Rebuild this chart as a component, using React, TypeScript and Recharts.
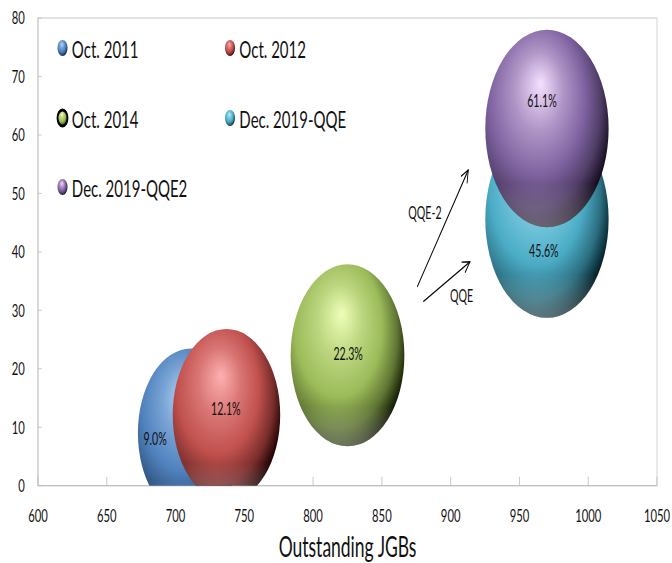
import React from 'react';
import {
  ScatterChart,
  Scatter,
  XAxis,
  YAxis,
  ZAxis,
  ReferenceLine,
  ReferenceArea,
  Label,
} from 'recharts';

// Holdings share vs. outstanding JGBs, one bubble per period
const periods = ['Oct. 2011', 'Oct. 2012', 'Oct. 2014', 'Dec. 2019-QQE', 'Dec. 2019-QQE2'];
const outstandingJGBs = [711, 737, 825, 970, 970];
const holdingShare = [9.0, 12.1, 22.3, 45.6, 61.1];

const xTicks = [600, 650, 700, 750, 800, 850, 900, 950, 1000, 1050];
const yTicks = [0, 10, 20, 30, 40, 50, 60, 70, 80];

// annotation arrows, in axis units
const arrowLabels = ['QQE-2', 'QQE'];
const arrowStart = [
  [875.7, 34.0],
  [880.1, 31.5],
];
const arrowEnd = [
  [912.8, 54.0],
  [914.0, 38.3],
];

// the chart is laid out wide and then squeezed horizontally
const SCALE = 0.625;
const W = 672;
const H = 563;
const INNER_W = W / SCALE;
const FONT = 'Lato, "Open Sans", sans-serif';

const palette = [
  { light: '#b8d8fa', base: '#4f81bd', dark: '#0a1a33' },
  { light: '#ffb0b0', base: '#c0504d', dark: '#220404' },
  { light: '#eeffb8', base: '#9bbb59', dark: '#161f05' },
  { light: '#b8f2ff', base: '#4bacc6', dark: '#05222a' },
  { light: '#f6e0ff', base: '#8064a2', dark: '#160e1e' },
];

// value label offsets from bubble centre (px)
const labelShift = [
  [-57, 5],
  [-1, -7],
  [1, -2],
  [-5, 31],
  [-8, -28.5],
];

const arrowLabelShift = [
  [-28.5, -15.7],
  [24, 13.3],
];

const points = periods.map((name, i) => ({
  name,
  x: outstandingJGBs[i],
  y: holdingShare[i],
}));

const mix = (a: string, b: string, t: number) => {
  const pa = [1, 3, 5].map((k) => parseInt(a.slice(k, k + 2), 16));
  const pb = [1, 3, 5].map((k) => parseInt(b.slice(k, k + 2), 16));
  return (
    '#' +
    pa
      .map((v, k) => Math.round(v + (pb[k] - v) * t).toString(16).padStart(2, '0'))
      .join('')
  );
};

const Gradient = ({ id, c }: { id: string; c: (typeof palette)[number] }) => (
  <radialGradient id={id} cx="0.4" cy="0.4" r="0.66" fx="0.45" fy="0.27">
    <stop offset="0" stopColor={c.light} />
    <stop offset="0.3" stopColor={mix(c.light, c.base, 0.6)} />
    <stop offset="0.58" stopColor={c.base} />
    <stop offset="0.8" stopColor={mix(c.base, c.dark, 0.45)} />
    <stop offset="0.96" stopColor={c.dark} />
    <stop offset="1" stopColor={c.dark} />
  </radialGradient>
);

const makeBubble = (i: number) => (p: any) => {
  const r = p.width / 2;
  return (
    <g>
      <circle cx={p.cx} cy={p.cy} r={r} fill={`url(#bubble-${i})`} />
      <circle cx={p.cx} cy={p.cy} r={r} fill="url(#rimLight)" />
      <text
        x={p.cx + labelShift[i][0]}
        y={p.cy + labelShift[i][1]}
        textAnchor="middle"
        dominantBaseline="central"
        fontSize={17}
        fontFamily={FONT}
        fill="#111"
      >
        {`${p.payload.y.toFixed(1)}%`}
      </text>
    </g>
  );
};

const makeArrow = (i: number) => (p: any) => {
  const mx = (p.x1 + p.x2) / 2;
  const my = (p.y1 + p.y2) / 2;
  return (
    <g>
      <line
        x1={p.x1}
        y1={p.y1}
        x2={p.x2}
        y2={p.y2}
        stroke="#000"
        strokeWidth={1.4}
        markerEnd="url(#arrowHead)"
      />
      <text
        x={mx + arrowLabelShift[i][0]}
        y={my + arrowLabelShift[i][1]}
        textAnchor="middle"
        dominantBaseline="central"
        fontSize={17}
        fontFamily={FONT}
        fill="#111"
      >
        {arrowLabels[i]}
      </text>
    </g>
  );
};

function BubbleLegend() {
  const colX = [100, 368];
  const rowY = [48, 118, 187];
  return (
    <svg
      width={700}
      height={220}
      style={{ position: 'absolute', left: 0, top: 0, pointerEvents: 'none' }}
    >
      <defs>
        {palette.map((c, i) => (
          <Gradient key={i} id={`legend-${i}`} c={c} />
        ))}
      </defs>
      {periods.map((name, i) => {
        const x = colX[i % 2];
        const y = rowY[Math.floor(i / 2)];
        return (
          <g key={name}>
            <circle
              cx={x}
              cy={y}
              r={8}
              fill={`url(#legend-${i})`}
              stroke={i === 2 ? '#000' : 'none'}
              strokeWidth={i === 2 ? 3 : 0}
            />
            <text
              x={x + 15}
              y={y}
              dominantBaseline="central"
              fontSize={24}
              fontFamily={FONT}
              fill="#111"
            >
              {name}
            </text>
          </g>
        );
      })}
    </svg>
  );
}

export default function App() {
  return (
    <div
      style={{
        position: 'absolute',
        left: 0,
        top: 0,
        width: W,
        height: H,
        overflow: 'hidden',
        background: '#fff',
      }}
    >
      <div
        style={{
          position: 'relative',
          width: INNER_W,
          height: H,
          transform: `scaleX(${SCALE})`,
          transformOrigin: '0 0',
        }}
      >
        <ScatterChart
          width={INNER_W}
          height={H}
          margin={{ top: 18, right: 24, bottom: 0, left: 0 }}
          style={{ fontFamily: FONT }}
        >
          <defs>
            {palette.map((c, i) => (
              <Gradient key={i} id={`bubble-${i}`} c={c} />
            ))}
            <linearGradient id="rimLight" x1="0" y1="0" x2="0" y2="1">
              <stop offset="0.78" stopColor="#fff" stopOpacity={0} />
              <stop offset="1" stopColor="#fff" stopOpacity={0.32} />
            </linearGradient>
            <marker
              id="arrowHead"
              viewBox="0 0 14 14"
              refX="13"
              refY="7"
              markerWidth="14"
              markerHeight="14"
              markerUnits="userSpaceOnUse"
              orient="auto"
            >
              <path d="M1,1 L13,7 L1,13" fill="none" stroke="#000" strokeWidth={1.4} />
            </marker>
          </defs>
          <ReferenceArea
            x1={600}
            x2={1050}
            y1={0}
            y2={80}
            fill="none"
            stroke="#c8c8c8"
            strokeWidth={1.2}
          />
          <XAxis
            type="number"
            dataKey="x"
            domain={[600, 1050]}
            ticks={xTicks}
            interval={0}
            allowDataOverflow
            height={77.3}
            tickSize={-9}
            tickMargin={33}
            stroke="#bcbcbc"
            tick={{ fill: '#111', fontSize: 18, fontFamily: FONT }}
          >
            <Label
              value="Outstanding JGBs"
              position="insideBottom"
              offset={6}
              style={{ fontSize: 28, fill: '#111', fontFamily: FONT }}
            />
          </XAxis>
          <YAxis
            type="number"
            dataKey="y"
            domain={[0, 80]}
            ticks={yTicks}
            interval={0}
            allowDataOverflow
            width={60.8}
            tickSize={-6}
            tickMargin={27}
            stroke="#bcbcbc"
            tick={{ fill: '#111', fontSize: 18, fontFamily: FONT }}
          />
          <ZAxis type="number" dataKey="x" domain={[0, 1000]} range={[0, 31530]} />
          {points.map((pt, i) => (
            <Scatter
              key={pt.name}
              name={pt.name}
              data={[pt]}
              fill={palette[i].base}
              shape={makeBubble(i)}
              isAnimationActive={false}
            />
          ))}
          {arrowLabels.map((name, i) => (
            <ReferenceLine
              key={name}
              segment={[
                { x: arrowStart[i][0], y: arrowStart[i][1] },
                { x: arrowEnd[i][0], y: arrowEnd[i][1] },
              ]}
              shape={makeArrow(i)}
            />
          ))}
        </ScatterChart>
        <BubbleLegend />
      </div>
    </div>
  );
}
